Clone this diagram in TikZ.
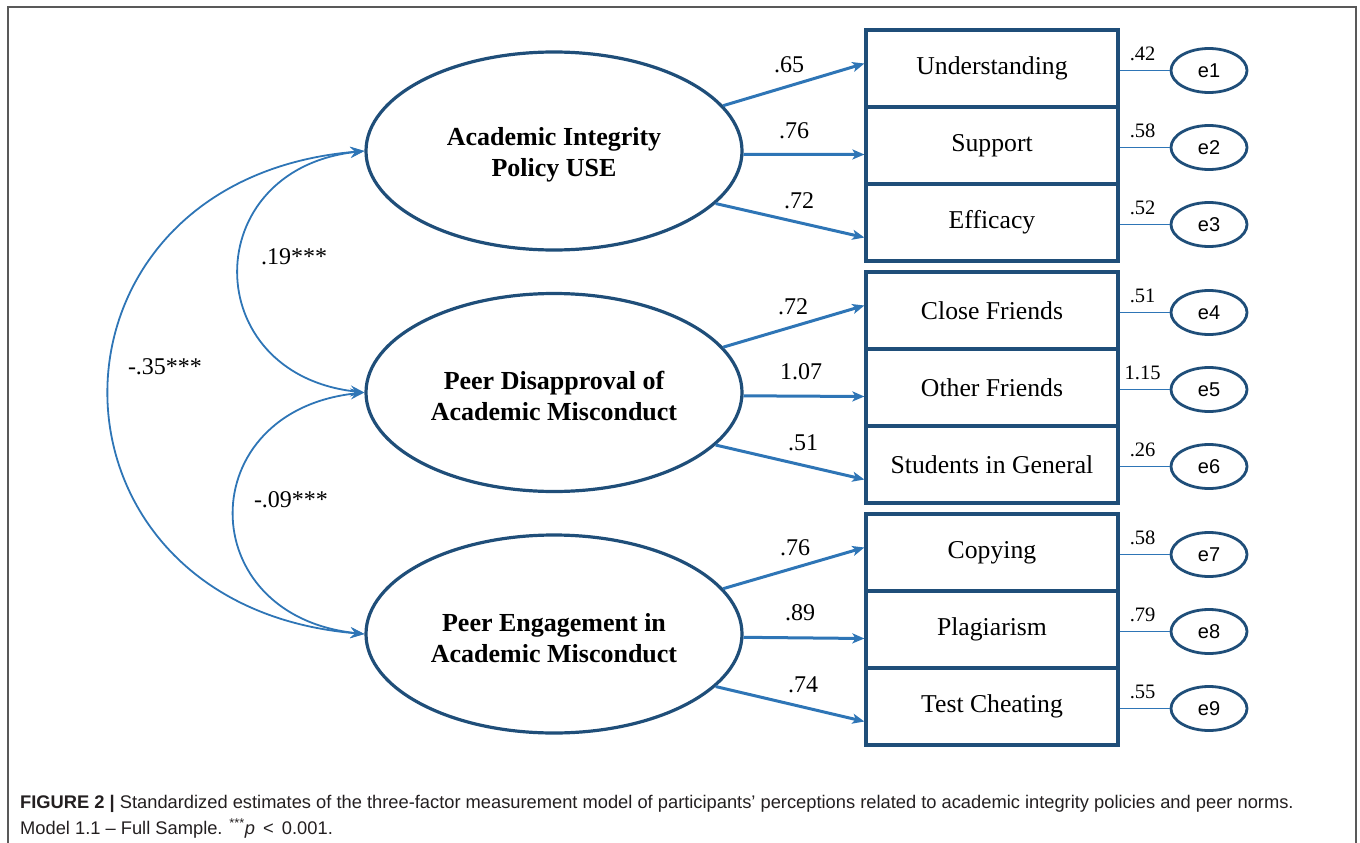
\documentclass[tikz,border=0pt]{standalone}
\usepackage{fontspec}
\setmainfont{Liberation Serif}
\newfontfamily\sansf{Liberation Sans}
\usetikzlibrary{shapes.geometric,arrows.meta,calc}
\definecolor{navy}{HTML}{1F4E79}
\definecolor{arrblue}{HTML}{2E75B6}
\definecolor{framegray}{HTML}{595959}
\definecolor{captext}{HTML}{231F20}
\begin{document}
\begin{tikzpicture}[x=1pt,y=-1pt,
  latent/.style={draw=navy, line width=3.2pt, ellipse, minimum width=376pt, minimum height=198pt, inner sep=0pt},
  latenttext/.style={inner sep=0pt, font=\fontsize{26}{31}\selectfont\bfseries, align=center},
  indic/.style={draw=navy, line width=3.2pt, rectangle, minimum width=252pt, minimum height=77pt, inner sep=0pt, font=\fontsize{25.7}{29}\selectfont},
  err/.style={draw=navy, line width=2.8pt, ellipse, minimum width=76pt, minimum height=44pt, inner sep=0pt, font=\sansf\fontsize{20}{22}\selectfont},
  load/.style={draw=arrblue, line width=3pt, -{Stealth[length=12pt,width=10pt,inset=3pt]}},
  cov/.style={draw=arrblue, line width=1.8pt, {Stealth[length=14pt,width=11pt,inset=5pt]}-{Stealth[length=14pt,width=11pt,inset=5pt]}},
  errline/.style={draw=arrblue, line width=1.4pt},
  coef/.style={font=\fontsize{24}{26}\selectfont, inner sep=0pt},
  ecoef/.style={font=\fontsize{20.5}{22}\selectfont, inner sep=0pt},
  covlab/.style={font=\fontsize{24}{26}\selectfont, inner sep=0pt},
  captxt/.style={anchor=base west, inner sep=0pt, text=captext, font=\sansf\fontsize{18.3}{22}\selectfont}
]
\useasboundingbox (0,0) rectangle (1360,843);
\draw[framegray, line width=1.5pt] (8,860) -- (8,7) -- (1356,7) -- (1356,860);

% latent variables
\node[latent] (L1) at (554,151) {};
\node[latent] (L2) at (554,392.5) {};
\node[latent] (L3) at (554,634) {};
\node[latenttext] (T1) at ($(L1)+(0,4)$) {Academic Integrity\\Policy USE};
\node[latenttext] (T2) at ($(L2)+(0,4)$) {Peer Disapproval of\\Academic Misconduct};
\node[latenttext] (T3) at ($(L3)+(0,4)$) {Peer Engagement in\\Academic Misconduct};

% indicators
\node[indic] (B1) at (992,68.5) {Understanding};
\node[indic] (B2) at (992,145.5) {Support};
\node[indic] (B3) at (992,222.5) {Efficacy};
\node[indic] (B4) at (992,310.5) {Close Friends};
\node[indic] (B5) at (992,387.5) {Other Friends};
\node[indic] (B6) at (992,464.5) {Students in General};
\node[indic] (B7) at (992,552.5) {Copying};
\node[indic] (B8) at (992,629.5) {Plagiarism};
\node[indic] (B9) at (992,706.5) {Test Cheating};

% error terms
\foreach \i/\y/\v in {1/70.5/.42, 2/147.5/.58, 3/224.5/.52, 4/312.5/.51, 5/389.5/1.15, 6/466.5/.26, 7/554.5/.58, 8/631.5/.79, 9/708.5/.55}{
  \node[err] (E\i) at (1209,\y) {e\i};
  \draw[errline] (B\i.east |- E\i) -- (E\i.west);
  \node[ecoef] (EC\i) at ($(B\i.east |- E\i)+(23,-17)$) {\v};
}

% loadings
\foreach \l/\a/\b/\c in {1/1/2/3, 2/4/5/6, 3/7/8/9}{
  \draw[load] (L\l.15) -- ($(B\a.west)+(0,-5)$);
  \draw[load] (L\l.-1) -- ($(B\b.west)+(0,9)$);
  \draw[load] (L\l.-18) -- ($(B\c.west)+(0,15)$);
}
\node[coef] (c1) at (789,65) {.65};
\node[coef] (c2) at (794,131) {.76};
\node[coef] (c3) at (799,201) {.72};
\node[coef] (c4) at (793,306.5) {.72};
\node[coef] (c5) at (801,372) {1.07};
\node[coef] (c6) at (803,442.5) {.51};
\node[coef] (c7) at (795,548) {.76};
\node[coef] (c8) at (800,613) {.89};
\node[coef] (c9) at (803,685) {.74};

% covariances
\draw[cov] (L1.west) .. controls +(-167,18) and +(-167,-18) .. (L2.west);
\draw[cov] (L2.west) .. controls +(-173,18) and +(-173,-18) .. (L3.west);
\draw[cov] (L1.west) .. controls +(-340,28) and +(-340,-28) .. (L3.west);
\node[covlab] (k1) at (294,257) {.19***};
\node[covlab] (k2) at (291,500) {-.09***};
\node[covlab] (k3) at (165,367) {-.35***};

% caption
\node[captxt] (cap1) at (20,808) {\textbf{FIGURE 2 |} Standardized estimates of the three-factor measurement model of participants’ perceptions related to academic integrity policies and peer norms.};
\node[captxt] (cap2) at (20,834) {Model 1.1 – Full Sample. \textsuperscript{***}\textit{p} \,<\, 0.001.};
\end{tikzpicture}
\end{document}
